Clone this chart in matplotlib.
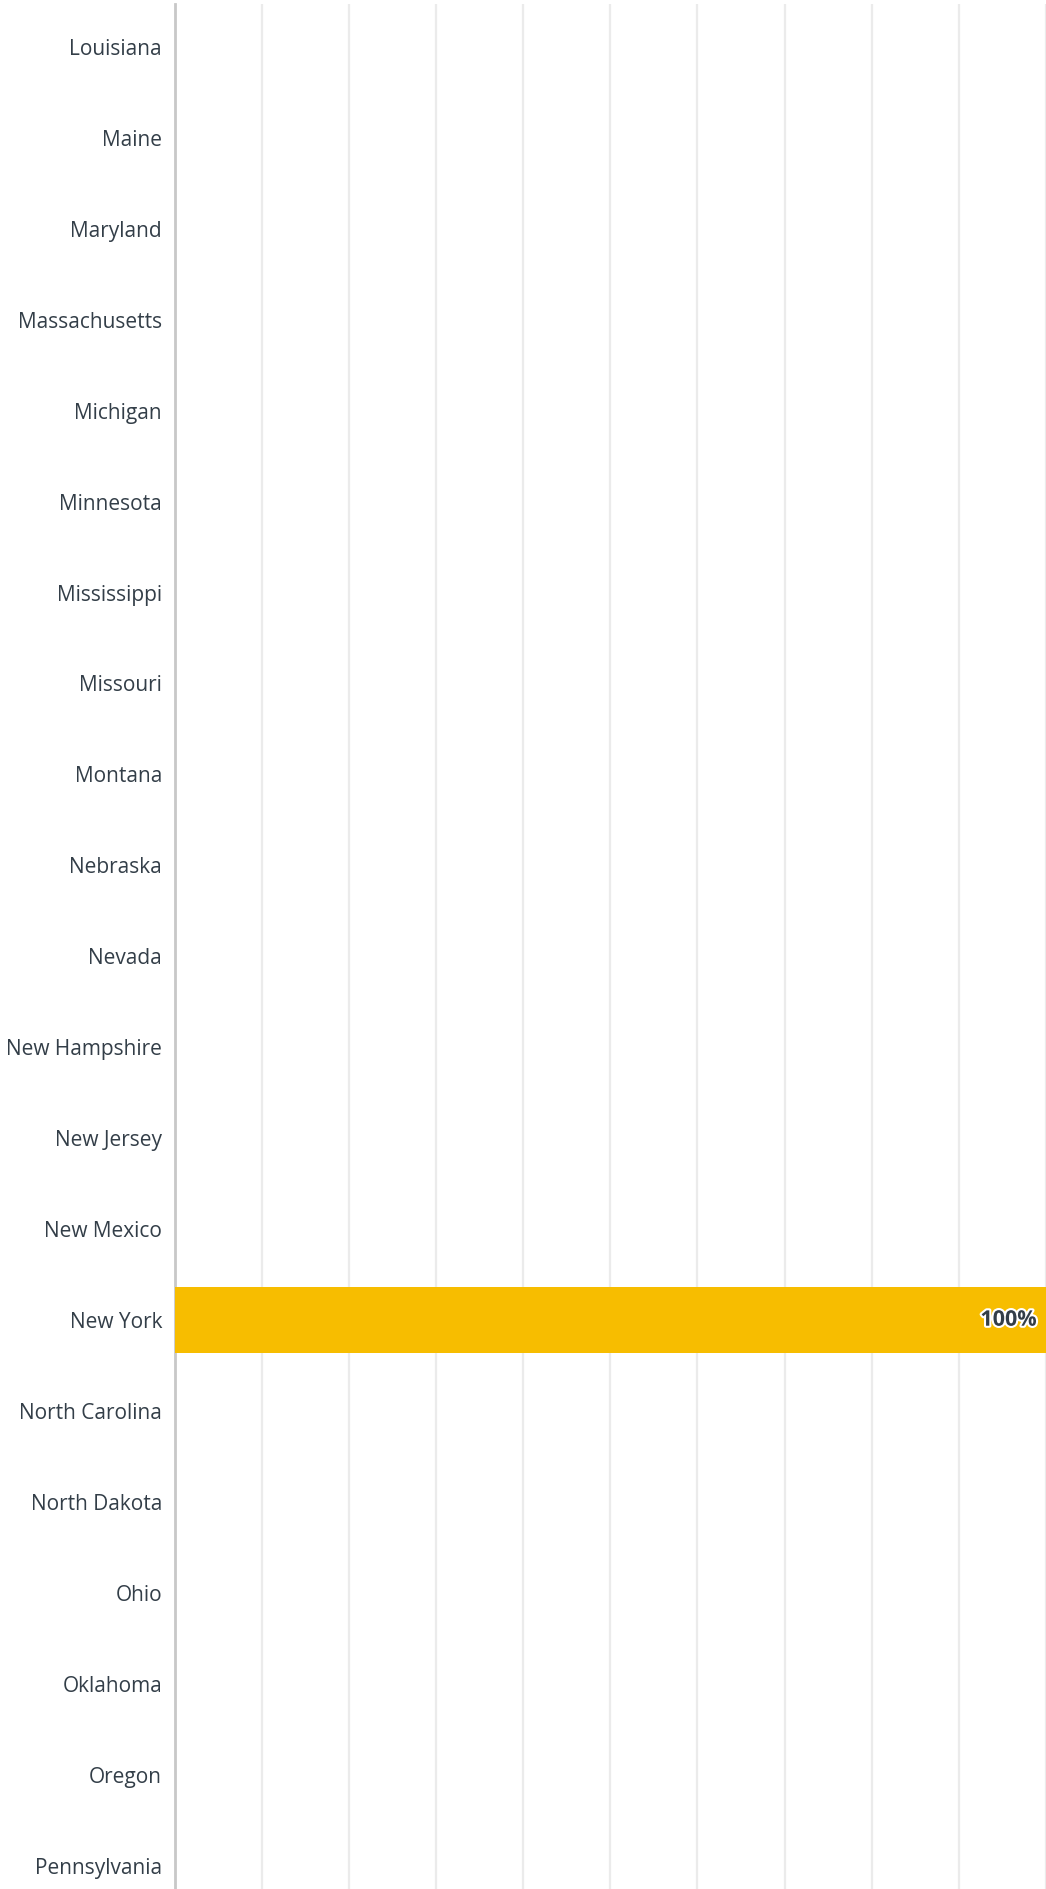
import matplotlib.pyplot as plt
import matplotlib.patheffects as pe

states = ['Louisiana', 'Maine', 'Maryland', 'Massachusetts', 'Michigan',
          'Minnesota', 'Mississippi', 'Missouri', 'Montana', 'Nebraska',
          'Nevada', 'New Hampshire', 'New Jersey', 'New Mexico', 'New York',
          'North Carolina', 'North Dakota', 'Ohio', 'Oklahoma', 'Oregon',
          'Pennsylvania']
percent = [0, 0, 0, 0, 0, 0, 0, 0, 0, 0, 0, 0, 0, 0, 100, 0, 0, 0, 0, 0, 0]

text_col = '#333e48'
bar_col = '#f7bd00'

fig = plt.figure(figsize=(10.46, 18.89), dpi=100)
ax = fig.add_axes([174.5 / 1046, 0, 1 - 174.5 / 1046, 1 - 4 / 1889])

y = list(range(len(states)))
ax.barh(y, percent, height=0.725, color=bar_col, zorder=6)

for yi, v in zip(y, percent):
    if v > 0:
        ax.text(v - 1.1, yi, f'{v}%', ha='right', va='center',
                fontsize=15.5, fontweight='bold', color=text_col,
                family='Open Sans', zorder=7,
                path_effects=[pe.withStroke(linewidth=3, foreground='white')])

ax.set_xlim(0, 100)
ax.set_ylim(20.253, -0.47)
ax.set_xticks(range(0, 101, 10))
ax.set_yticks(y)
ax.set_yticklabels(states, fontsize=15, color=text_col, family='Open Sans')
ax.tick_params(axis='y', length=0, pad=9)
ax.tick_params(axis='x', length=0, labelbottom=False)
ax.grid(axis='x', color='#ebebeb', linewidth=1.6, zorder=0)
for s in ['top', 'right', 'bottom']:
    ax.spines[s].set_visible(False)
ax.spines['left'].set_color('#c8c8c8')
ax.spines['left'].set_linewidth(2)
ax.spines['left'].set_zorder(5)

fig.savefig('out.png', dpi=100)
